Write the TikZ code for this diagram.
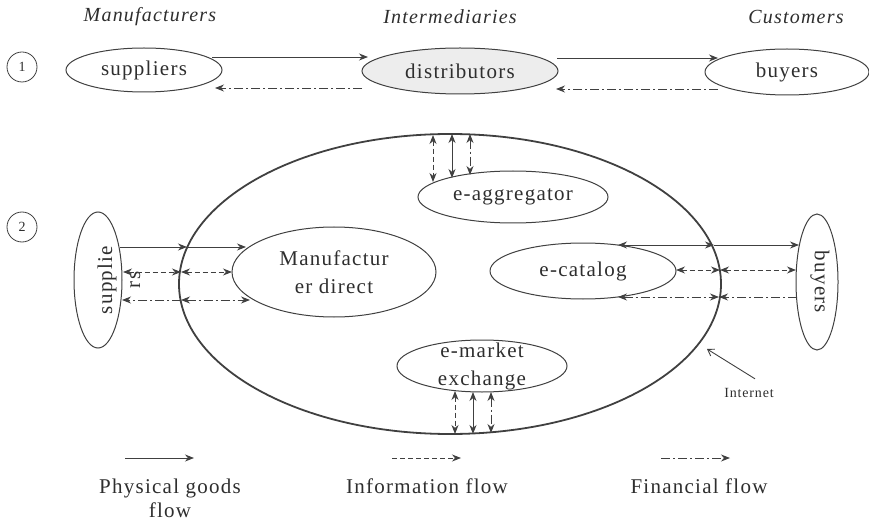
\documentclass[tikz,border=0pt]{standalone}
\usepackage{fontspec}
\setmainfont{Liberation Serif}[LetterSpace=6]
\usetikzlibrary{shapes.geometric,arrows.meta,calc}
\definecolor{ink}{gray}{0.25}
\definecolor{txt}{gray}{0.18}
\begin{document}
\begin{tikzpicture}[x=1pt,y=-1pt,
  every node/.style={text=txt, font=\fontsize{21}{28}\selectfont},
  ell/.style={ellipse, draw=ink, line width=1pt, inner sep=0pt},
  netell/.style={ellipse, draw=ink, line width=1.8pt, inner sep=0pt},
  numcirc/.style={circle, draw=ink, line width=0.8pt, minimum size=30pt, inner sep=0pt, font=\fontsize{14}{16}\selectfont},
  colhead/.style={font=\fontsize{20}{24}\selectfont\itshape},
  flowline/.style={draw=ink, line width=0.9pt},
  phys/.style={flowline},
  info/.style={flowline, dash pattern=on 5pt off 3pt},
  fin/.style={flowline, dash pattern=on 9pt off 3pt on 2pt off 3pt},
  fwd/.style={-{Stealth[length=9pt,width=7pt]}},
  two/.style={{Stealth[length=9pt,width=7pt]}-{Stealth[length=9pt,width=7pt]}},
]
\useasboundingbox (0,0) rectangle (869,521);

% column headings
\node[colhead] (hman) at (150,17) {Manufacturers};
\node[colhead] (hint) at (450,17) {Intermediaries};
\node[colhead] (hcus) at (796,17) {Customers};

% ---- model 1: traditional chain ----
\node[numcirc] (n1) at (22,67) {1};
\node[ell, minimum width=156, minimum height=44, label=center:suppliers] (sup1) at (144,70) {};
\node[ell, fill=black!7, minimum width=196, minimum height=46, label=center:distributors] (dist) at (460,71) {};
\node[ell, minimum width=164, minimum height=46, label=center:buyers] (buy1) at (787,72) {};

\coordinate (s1g) at (212,57);  \coordinate (d1g) at (368,57);
\coordinate (d1f) at (362,88);  \coordinate (s1f) at (215,88);
\coordinate (d2g) at (557,58);  \coordinate (b1g) at (718,58);
\coordinate (b1f) at (718,89);  \coordinate (d2f) at (556,89);
\draw[phys,fwd] (s1g) -- (d1g);
\draw[fin,fwd] (d1f) -- (s1f);
\draw[phys,fwd] (d2g) -- (b1g);
\draw[fin,fwd] (b1f) -- (d2f);

% ---- model 2: internet based ----
\node[numcirc] (n2) at (22,227) {2};
\node[netell, minimum width=542, minimum height=300] (net) at (450,284) {};
\node[ell, minimum width=190, minimum height=52, label=center:e-aggregator] (agg) at (513,197) {};
\node[ell, minimum width=204, minimum height=90, label={[align=center]center:Manufactur\\er direct}] (man) at (334,272) {};
\node[ell, minimum width=186, minimum height=56, label=center:e-catalog] (cat) at (583,271) {};
\node[ell, minimum width=170, minimum height=52, label={[align=center]center:e-market\\exchange}] (mkt) at (482,366) {};
\node[ell, minimum width=48, minimum height=136] (sup2) at (98,280) {};
\node[rotate=90, align=center] (sup2t) at (119,280) {supplie\\rs};
\node[ell, minimum width=42, minimum height=136] (buy2) at (817,282) {};
\node[rotate=-90] (buy2t) at (820,282) {buyers};

% suppliers side
\coordinate (sg) at (120,247);  \coordinate (ngl) at (187,247);  \coordinate (mg) at (246,247);
\coordinate (si) at (123,272);  \coordinate (nil) at (181,272);  \coordinate (mi) at (232,272);
\coordinate (sf) at (122,300);  \coordinate (nfl) at (181,300);  \coordinate (mf) at (250,300);
\draw[phys,fwd] (sg) -- (ngl);
\draw[phys,fwd] (ngl) -- (mg);
\draw[info,two] (si) -- (nil);
\draw[info,two] (nil) -- (mi);
\draw[fin,fwd] (nfl) -- (sf);
\draw[fin,two] (nfl) -- (mf);

% buyers side
\coordinate (cg) at (618,245);  \coordinate (ngr) at (714,245);  \coordinate (bg) at (799,245);
\coordinate (ci) at (676,270);  \coordinate (nir) at (720,270);  \coordinate (bi) at (796,270);
\coordinate (cf) at (618,297);  \coordinate (nfr) at (719,297);  \coordinate (bf) at (797,297);
\draw[phys,two] (cg) -- (ngr);
\draw[phys,fwd] (ngr) -- (bg);
\draw[info,two] (ci) -- (nir);
\draw[info,two] (nir) -- (bi);
\draw[fin,two] (cf) -- (nfr);
\draw[fin,fwd] (bf) -- (nfr);

% e-aggregator links
\coordinate (at1) at (433,135);  \coordinate (ab1) at (433,182);
\coordinate (at2) at (452,134);  \coordinate (ab2) at (452,178);
\coordinate (at3) at (470,134);  \coordinate (ab3) at (470,175);
\draw[info,two] (at1) -- (ab1);
\draw[phys,two] (at2) -- (ab2);
\draw[fin,two]  (at3) -- (ab3);

% e-market links
\coordinate (et1) at (455,391);  \coordinate (eb1) at (455,434);
\coordinate (et2) at (473,392);  \coordinate (eb2) at (473,434);
\coordinate (et3) at (491,392);  \coordinate (eb3) at (491,433);
\draw[info,two] (et1) -- (eb1);
\draw[phys,two] (et2) -- (eb2);
\draw[fin,two]  (et3) -- (eb3);

% Internet pointer
\node[font=\fontsize{14}{16}\selectfont] (inet) at (749,393) {Internet};
\coordinate (inetstart) at ($(inet.north)+(6,-6)$);
\coordinate (netpt) at (707,349);
\draw[flowline, -{Straight Barb[length=6pt,width=8pt]}] (inetstart) -- (netpt);

% legend
\coordinate (lg1) at (125,458); \coordinate (lg2) at (194,458);
\coordinate (li1) at (392,458); \coordinate (li2) at (461,458);
\coordinate (lf1) at (661,458); \coordinate (lf2) at (730,458);
\draw[phys,fwd] (lg1) -- (lg2);
\draw[info,fwd] (li1) -- (li2);
\draw[fin,fwd]  (lf1) -- (lf2);
\node[align=center, font=\fontsize{21}{24}\selectfont, anchor=north] (lphys) at (170,475) {Physical goods\\flow};
\node[font=\fontsize{21}{24}\selectfont, anchor=north] (linfo) at (427,475) {Information flow};
\node[font=\fontsize{21}{24}\selectfont, anchor=north] (lfin) at (699,475) {Financial flow};
\end{tikzpicture}
\end{document}
